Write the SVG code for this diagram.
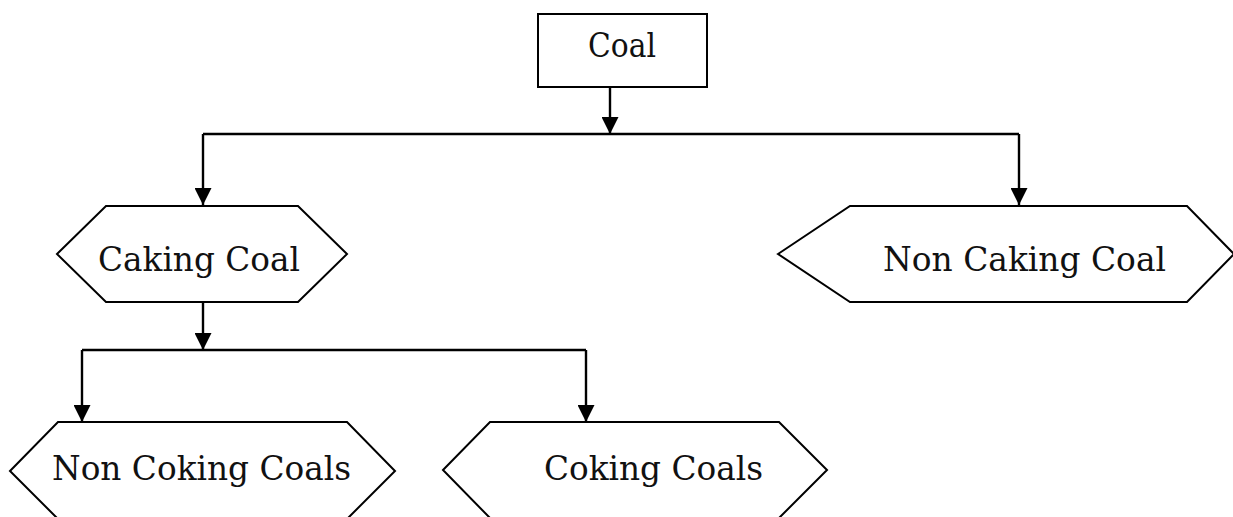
<svg xmlns="http://www.w3.org/2000/svg" width="1233" height="517" viewBox="0 0 1233 517">
<style>
.shape{fill:#fff;stroke:#000;stroke-width:2}
.lbl{font-family:"DejaVu Serif","Liberation Serif",serif;font-size:33px;fill:#111}
.conn{fill:none;stroke:#000;stroke-width:2.4}
</style>
<defs>
<marker id="ah" markerUnits="userSpaceOnUse" markerWidth="17" markerHeight="17" viewBox="0 0 17 17" refX="17" refY="8.5" orient="auto">
<path d="M0,0 L17,8.5 L0,17 z" fill="#000"/>
</marker>
</defs>
<rect width="1233" height="517" fill="#fff"/>
<g id="connectors">
<path class="conn" d="M610,87 V134" marker-end="url(#ah)"/>
<path class="conn" d="M203,134 H1019"/>
<path class="conn" d="M203,134 V205" marker-end="url(#ah)"/>
<path class="conn" d="M1019,134 V205" marker-end="url(#ah)"/>
<path class="conn" d="M203,302 V350" marker-end="url(#ah)"/>
<path class="conn" d="M82,350 H586"/>
<path class="conn" d="M82,350 V422" marker-end="url(#ah)"/>
<path class="conn" d="M586,350 V422" marker-end="url(#ah)"/>
</g>
<g id="coal">
<rect class="shape" x="538" y="14" width="169" height="73"/>
<text class="lbl" x="588" y="57" textLength="68" lengthAdjust="spacingAndGlyphs">Coal</text>
</g>
<g id="caking-coal">
<polygon class="shape" points="57,254 106,206 298,206 347,254 298,302 106,302"/>
<text class="lbl" x="98" y="271" textLength="202" lengthAdjust="spacingAndGlyphs">Caking Coal</text>
</g>
<g id="non-caking-coal">
<polygon class="shape" points="778,254 850,206 1187,206 1234,254 1187,302 850,302"/>
<text class="lbl" x="883" y="271" textLength="283" lengthAdjust="spacingAndGlyphs">Non Caking Coal</text>
</g>
<g id="non-coking-coals">
<polygon class="shape" points="10,471 58,422 347,422 395,471 347,519 58,519"/>
<text class="lbl" x="52" y="480" textLength="299" lengthAdjust="spacingAndGlyphs">Non Coking Coals</text>
</g>
<g id="coking-coals">
<polygon class="shape" points="443,470 490,422 779,422 827,470 779,518 490,518"/>
<text class="lbl" x="544" y="480" textLength="219" lengthAdjust="spacingAndGlyphs">Coking Coals</text>
</g>
</svg>
